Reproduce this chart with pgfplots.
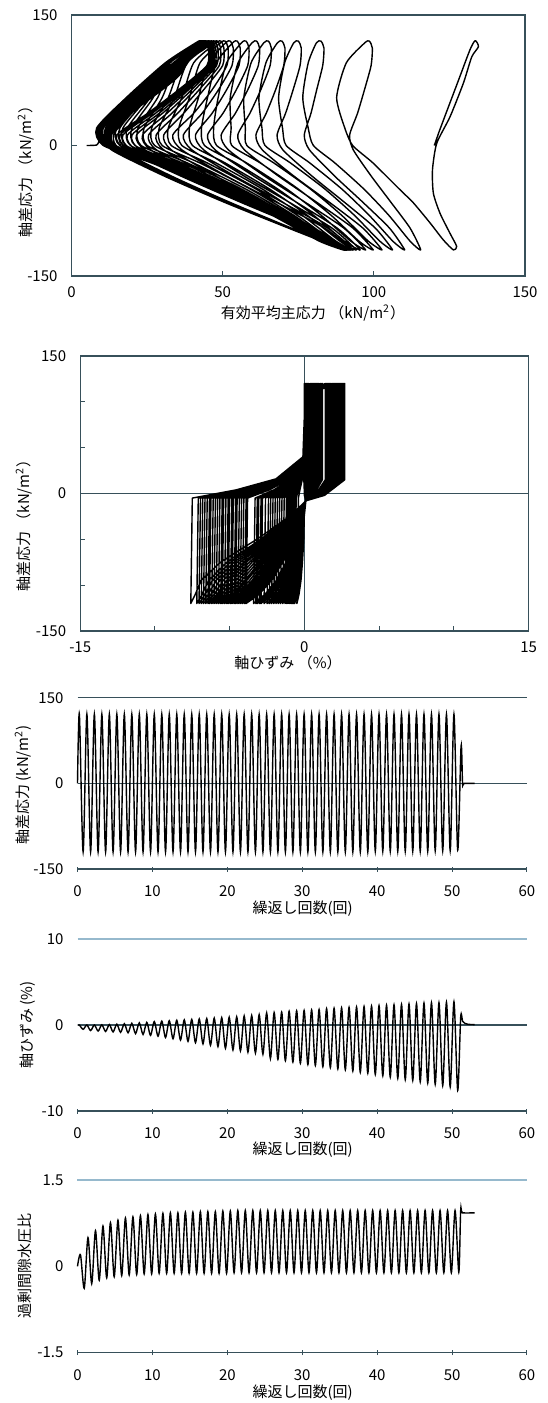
\documentclass[border=0pt]{standalone}
\usepackage{fontspec}
\setmainfont{Noto Sans CJK JP}
\usepackage{pgfplots}
\pgfplotsset{compat=1.18}
\definecolor{frame}{RGB}{55,80,90}
\definecolor{gridlt}{RGB}{150,185,205}
\pgfplotsset{
  panel/.style={
    scale only axis, anchor=south west,
    font=\fontsize{7.5}{9}\selectfont,
    /pgf/number format/assume math mode=true,
    axis line style={frame, line width=0.6pt},
    tick style={frame, line width=0.5pt},
    major tick length=2.5pt,
    tick align=inside,
    xticklabel style={yshift=-2pt},
    yticklabel style={xshift=-3.5pt},
  },
  series panel/.style={
    panel, width=224.75pt, xmin=0, xmax=60, clip=false,
    xtick={0,10,...,60}, xtick pos=left, xtick align=center,
    axis line style={draw=none}, ytick style={draw=none},
    xticklabel style={yshift=-1.5pt},
  },
  loopline/.style={black, line width=0.7pt, line join=round, mark=none},
  waveline/.style={black, line width=0.7pt, smooth, mark=none},
}
\begin{document}
\begin{tikzpicture}
\useasboundingbox (0,0) rectangle (273.5pt,-701.5pt);

% stress path p'-q
\begin{axis}[panel, at={(35.75pt,-138pt)}, width=226.75pt, height=130.5pt,
  xmin=0, xmax=150, ymin=-150, ymax=150,
  xtick={0,50,100,150}, ytick={-150,0,150}, xtick pos=left, ytick pos=left]
\addplot[loopline, smooth, tension=0.4] coordinates {
(120,0) (121.5,15) (123,29) (128,75) (131.8,110) (133.5,120.5) (134.6,113.6) (132.4,102) (129.6,71.5) (125.2,33) (120.8,2.5) (119.4,-28) (119.7,-55) (121.9,-78) (125.2,-101) (127.4,-116) (126.3,-120) (123,-108.6) (118.6,-89) (113.1,-66) (108.7,-51) (99.7,-20)
(93,0) (90.4,20) (87.7,55) (90.9,95) (97,118) (98.5,120) (99.5,112) (99.1,92) (96.9,64) (94.6,37) (92,12) (93.2,-5) (99.1,-35) (105.6,-65) (112,-95) (115.5,-120) (112,-110) (104.9,-80) (96.7,-50) (87.1,-20)
(80,0) (78.3,20) (76.5,55) (78.3,95) (81,118) (82.5,120) (83.5,112) (83.1,92) (81.1,64) (79.2,37) (77,12) (78.7,-5) (87,-35) (96.3,-65) (105.2,-95) (110.2,-120) (106.3,-110) (98.4,-80) (89.4,-50) (78.8,-20)
(71,0) (69.8,20) (68.5,55) (70.5,95) (73.5,118) (75,120) (76,112) (75.6,92) (73.3,64) (70.8,37) (68,12) (69.9,-5) (79.5,-35) (90.2,-65) (100.5,-95) (106.2,-120) (102,-110) (93.5,-80) (83.8,-50) (72.4,-20)
(64,0) (63,20) (62,55) (64.3,95) (68.1,118) (69.6,120) (70.6,112) (70.2,92) (67.5,64) (64.4,37) (61,12) (63.1,-5) (73.5,-35) (85.2,-65) (96.4,-95) (102.7,-120) (98.2,-110) (89.3,-80) (79,-50) (66.9,-20)
(58,0) (57.5,20) (57,55) (59.4,95) (63.6,118) (65.1,120) (66.1,112) (65.7,92) (62.6,64) (59,37) (55,12) (57.2,-5) (68.4,-35) (81,-65) (93.1,-95) (99.8,-120) (95.1,-110) (85.8,-80) (75,-50) (62.4,-20)
(53,0) (52.8,20) (52.5,55) (55.1,95) (59.7,118) (61.2,120) (62.2,112) (61.8,92) (58.3,64) (54.2,37) (49.5,12) (51.9,-5) (63.8,-35) (77.2,-65) (90.1,-95) (97.3,-120) (92.4,-110) (82.5,-80) (71.2,-50) (57.9,-20)
(48,0) (47,20) (48.5,55) (51.3,95) (56.2,118) (57.7,120) (58.7,112) (58.3,92) (54.5,64) (50.1,37) (45,12) (47.5,-5) (60.2,-35) (74.3,-65) (87.9,-95) (95.5,-120) (90.3,-110) (80,-80) (68.2,-50) (54.3,-20)
(44,0) (43,20) (45,55) (47.9,95) (53.3,118) (54.8,120) (55.8,112) (55.4,92) (51.3,64) (46.5,37) (41,12) (43.7,-5) (57,-35) (71.9,-65) (86.2,-95) (94.2,-120) (88.8,-110) (77.9,-80) (65.5,-50) (50.8,-20)
(40,0) (39,20) (42,55) (45.2,95) (51,118) (52.5,120) (53.5,112) (53.1,92) (48.6,64) (43.2,37) (37,12) (39.8,-5) (53.9,-35) (69.6,-65) (84.8,-95) (93.2,-120) (87.5,-110) (76.2,-80) (63.1,-50) (47.8,-20)
(36.5,0) (35.5,20) (39,55) (42.5,95) (49.3,118) (50.8,120) (51.8,112) (51.4,92) (46.5,64) (40.4,37) (33.5,12) (36.5,-5) (51.2,-35) (67.7,-65) (83.7,-95) (92.5,-120) (86.5,-110) (74.6,-80) (61,-50) (44.9,-20)
(33,0) (32,20) (36.5,55) (40.4,95) (47.9,118) (49.4,120) (50.4,112) (50,92) (43.7,64) (37.1,37) (30.5,12) (33,-5) (47.7,-35) (63.7,-65) (80.3,-95) (92,-120) (85.8,-110) (73.4,-80) (59.1,-50) (42.4,-20)
(30,0) (29,20) (34,55) (38.3,95) (46.8,118) (48.3,120) (49.3,112) (48.9,92) (42.2,64) (35.1,37) (28,12) (30.5,-5) (45.8,-35) (62.3,-65) (79.5,-95) (91.6,-120) (85.2,-110) (72.4,-80) (57.6,-50) (40.3,-20)
(27.5,0) (26.5,20) (32,55) (36.6,95) (45.9,118) (47.4,120) (48.4,112) (48,92) (40.8,64) (33.2,37) (25.5,12) (28.1,-5) (43.9,-35) (61,-65) (78.8,-95) (91.3,-120) (84.7,-110) (71.4,-80) (56.2,-50) (38.3,-20)
(25,0) (24,20) (30,55) (35,95) (45.2,118) (46.7,120) (47.7,112) (47.3,92) (39.7,64) (31.6,37) (23.5,12) (26.2,-5) (42.4,-35) (60,-65) (78.3,-95) (91.1,-120) (84.3,-110) (70.7,-80) (55,-50) (36.6,-20)
(23,0) (22,20) (28.5,55) (33.8,95) (44.6,118) (46.1,120) (47.1,112) (46.7,92) (38.7,64) (30.1,37) (21.5,12) (24.3,-5) (40.9,-35) (59,-65) (77.7,-95) (90.9,-120) (83.9,-110) (69.9,-80) (53.9,-50) (35,-20)
(21,0) (20,20) (27,55) (32.6,95) (44.1,118) (45.6,120) (46.6,112) (46.2,92) (37.9,64) (29,37) (20,12) (22.8,-5) (39.8,-35) (58.2,-65) (77.3,-95) (90.8,-120) (83.7,-110) (69.4,-80) (53,-50) (33.8,-20)
(19.5,0) (18.5,20) (26,55) (32.2,95) (43.7,118) (45.2,120) (46.2,112) (45.8,92) (37.2,64) (27.8,37) (18.5,12) (21.4,-5) (38.7,-35) (57.5,-65) (77,-95) (90.7,-120) (83.4,-110) (68.9,-80) (52.2,-50) (32.5,-20)
(18,0) (17,20) (25,55) (32,95) (43.3,118) (44.8,120) (45.8,112) (45.4,92) (36.5,64) (26.7,37) (17,12) (19.9,-5) (37.6,-35) (56.7,-65) (76.6,-95) (90.6,-120) (83.2,-110) (68.5,-80) (51.6,-50) (31.7,-20)
(17,0) (16,20) (24.3,55) (32,95) (43,118) (44.5,120) (45.5,112) (45.1,92) (35.9,64) (26,37) (16,12) (19,-5) (36.9,-35) (56.2,-65) (76.3,-95) (90.5,-120) (83,-110) (68.1,-80) (51,-50) (30.9,-20)
(16,0) (15,20) (23.8,55) (32,95) (42.7,118) (44.2,120) (45.2,112) (44.8,92) (35.4,64) (25.2,37) (15,12) (18,-5) (36.1,-35) (55.8,-65) (76.2,-95) (90.5,-120) (82.9,-110) (67.7,-80) (50.3,-50) (29.8,-20)
(14.6,0) (13,20) (21,55) (32.5,95) (42.4,118) (43.9,120) (44.7,113) (39.5,100) (35.5,80) (30,64) (19.8,37) (13.9,12) (16.2,-5) (33,-35) (52.2,-65) (72.8,-95) (90.4,-120) (82.7,-110) (67.4,-80) (49.7,-50) (29,-20)
(13.7,0) (12,20) (20.4,55) (32.2,95) (42.3,118) (43.8,120) (44.6,113) (39.2,100) (35,80) (29.5,64) (19.5,37) (13.2,12) (15.5,-5) (32.5,-35) (51.8,-65) (72.6,-95) (90.3,-120) (82.6,-110) (67.1,-80) (49.3,-50) (28.5,-20)
(13,0) (11.2,20) (19.9,55) (32,95) (42.1,118) (43.6,120) (44.4,113) (38.9,100) (34.5,80) (29,64) (19.1,37) (12.7,12) (15,-5) (32.1,-35) (51.5,-65) (72.4,-95) (90.2,-120) (82.4,-110) (66.9,-80) (49,-50) (28,-20)
(12.5,0) (10.5,20) (19.5,55) (31.8,95) (42,118) (43.5,120) (44.3,113) (38.6,100) (34,80) (28.5,64) (18.8,37) (12.3,12) (14.6,-5) (31.8,-35) (51.3,-65) (72.3,-95) (90.2,-120) (82.4,-110) (66.8,-80) (48.9,-50) (27.8,-20)
(12.2,0) (10.2,20) (19.2,55) (31.7,95) (41.9,118) (43.4,120) (44.2,113) (38.4,100) (33.5,80) (28,64) (18.4,37) (12,12) (14.3,-5) (31.5,-35) (51.1,-65) (72.1,-95) (90.1,-120) (82.3,-110) (66.6,-80) (48.7,-50) (27.5,-20)
(11.9,0) (9.9,20) (19,55) (31.6,95) (41.8,118) (43.3,120) (44.1,113) (38.1,100) (33,80) (27.5,64) (18.1,37) (11.8,12) (14.1,-5) (31.4,-35) (51,-65) (72.1,-95) (90.1,-120) (82.3,-110) (66.6,-80) (48.5,-50) (27.4,-20)
(11.7,0) (9.7,20) (18.8,55) (31.5,95) (41.7,118) (43.2,120) (44,113) (37.8,100) (32.5,80) (27,64) (17.7,37) (11.6,12) (14,-5) (31.2,-35) (50.9,-65) (72,-95) (90.1,-120) (82.2,-110) (66.5,-80) (48.4,-50) (27.2,-20)
(11.5,0) (9.5,20) (18.7,55) (31.4,95) (41.6,118) (43.1,120) (43.9,113) (37.5,100) (32,80) (26.5,64) (17.4,37) (11.5,12) (13.9,-5) (31.1,-35) (50.8,-65) (71.9,-95) (90,-120) (82.1,-110) (66.4,-80) (48.3,-50) (27.1,-20)
(11.4,0) (9.3,20) (18.6,55) (31.3,95) (41.5,118) (43,120) (43.8,113) (37.3,100) (31.5,80) (26,64) (17,37) (11.4,12) (13.8,-5) (31.1,-35) (50.7,-65) (71.9,-95) (90,-120) (82.1,-110) (66.4,-80) (48.2,-50) (27,-20)
(11.2,0) (9.1,20) (18.5,55) (31.2,95) (41.4,118) (42.9,120) (43.7,113) (37,100) (31,80) (25.5,64) (16.7,37) (11.3,12) (13.7,-5) (31,-35) (50.7,-65) (71.9,-95) (90,-120) (82.1,-110) (66.3,-80) (48.2,-50) (26.9,-20)
(11.1,0) (8.9,20) (18.4,55) (31.1,95) (41.3,118) (42.8,120) (43.6,113) (36.7,100) (30.5,80) (25,64) (16.3,37) (11.2,12) (13.6,-5) (30.9,-35) (50.6,-65) (71.9,-95) (90,-120) (82.1,-110) (66.3,-80) (48.1,-50) (26.8,-20)
(11,0) (8.8,20) (18.3,55) (31,95) (41.3,118) (42.8,120) (43.6,113) (36.4,100) (30,80) (24.5,64) (16,37) (11.1,12) (13.5,-5) (30.8,-35) (50.6,-65) (71.9,-95) (90,-120) (82.1,-110) (66.2,-80) (48,-50) (26.6,-20)
(10.8,0) (8.6,20) (18.2,55) (31,95) (41.2,118) (42.7,120) (43.5,113) (36.2,100) (29.5,80) (24,64) (15.6,37) (11,12) (13.4,-5) (30.8,-35) (50.5,-65) (71.8,-95) (90,-120) (82.1,-110) (66.2,-80) (47.9,-50) (26.6,-20)
(10.7,0) (8.4,20) (18.2,55) (31,95) (41.2,118) (42.7,120) (43.5,113) (35.9,100) (29,80) (23.5,64) (15.3,37) (10.9,12) (13.3,-5) (30.7,-35) (50.5,-65) (71.8,-95) (90,-120) (82.1,-110) (66.2,-80) (47.9,-50) (26.5,-20)
(10.6,0) (8.3,20) (18.1,55) (31,95) (41.1,118) (42.6,120) (43.4,113) (35.6,100) (28.5,80) (23,64) (14.9,37) (10.8,12) (13.2,-5) (30.6,-35) (50.4,-65) (71.8,-95) (90,-120) (82,-110) (66.2,-80) (47.9,-50) (26.4,-20)
(10.5,0) (8.5,20) (18.2,55) (21.5,65) (17,40) (11,12) (9,4) (8.3,0.5) (5,0)
};
\end{axis}

% axial strain - deviator stress
\begin{axis}[panel, at={(40.1pt,-315.5pt)}, width=224.2pt, height=137.5pt,
  xmin=-15, xmax=15, ymin=-150, ymax=150,
  xtick={-15,-10,...,15}, xticklabels={-15,,,0,,,15},
  ytick={-150,-100,...,150}, yticklabels={-150,,,0,,,150},
  xtick pos=left, ytick pos=left,
  extra x ticks={0}, extra x tick labels={}, extra x tick style={grid=major, major tick length=0pt},
  extra y ticks={0}, extra y tick labels={}, extra y tick style={grid=major, major tick length=0pt},
  major grid style={frame, line width=0.6pt}]
\addplot[loopline, line width=0.7pt] coordinates {
(0,0) (-0.05,20) (-0.1,40)
(0.05,110) (0,120) (0,15) (0,-2) (0.1,-8) (-0.01,-25) (-0.04,-50) (-0.13,-75) (-0.23,-95) (-0.36,-110) (-0.5,-120) (-0.4,-5) (-0.3,4) (-0.13,16) (-0.1,40)
(0.05,110) (0,120) (0,15) (0,-2) (0.1,-8) (-0.01,-25) (-0.05,-50) (-0.16,-75) (-0.29,-95) (-0.47,-110) (-0.65,-120) (-0.55,-5) (-0.39,4) (-0.16,16) (-0.1,40)
(0.05,110) (0,120) (0,15) (0,-2) (0.1,-8) (-0.01,-25) (-0.06,-50) (-0.18,-75) (-0.32,-95) (-0.5,-110) (-0.7,-120) (-0.6,-5) (-0.42,4) (-0.18,16) (-0.1,40)
(0.05,110) (0.02,120) (0.02,15) (0.01,-2) (0.1,-8) (-0.02,-25) (-0.06,-50) (-0.19,-75) (-0.34,-95) (-0.54,-110) (-0.75,-120) (-0.65,-5) (-0.45,4) (-0.19,16) (-0.1,40)
(0.05,110) (0.05,120) (0.05,15) (0.03,-2) (0.1,-8) (-0.02,-25) (-0.07,-50) (-0.2,-75) (-0.36,-95) (-0.58,-110) (-0.8,-120) (-0.7,-5) (-0.48,4) (-0.2,16) (-0.1,40)
(0.05,110) (0.1,120) (0.1,15) (0.05,-2) (0.1,-8) (-0.02,-25) (-0.07,-50) (-0.22,-75) (-0.39,-95) (-0.61,-110) (-0.85,-120) (-0.75,-5) (-0.51,4) (-0.21,16) (-0.1,40)
(0.05,110) (0.15,120) (0.15,15) (0.08,-2) (0.1,-8) (-0.02,-25) (-0.08,-50) (-0.23,-75) (-0.41,-95) (-0.65,-110) (-0.9,-120) (-0.8,-5) (-0.54,4) (-0.23,16) (-0.1,40)
(0.05,110) (0.2,120) (0.2,15) (0.1,-2) (0.1,-8) (-0.02,-25) (-0.09,-50) (-0.26,-75) (-0.46,-95) (-0.72,-110) (-1,-120) (-0.9,-5) (-0.6,4) (-0.25,16) (-0.1,40)
(0.05,110) (0.25,120) (0.25,15) (0.13,-2) (0.1,-8) (-0.03,-25) (-0.1,-50) (-0.29,-75) (-0.51,-95) (-0.8,-110) (-1.1,-120) (-1,-5) (-0.66,4) (-0.28,16) (-0.1,40)
(0.05,110) (0.3,120) (0.3,15) (0.15,-2) (0.1,-8) (-0.03,-25) (-0.11,-50) (-0.32,-75) (-0.56,-95) (-0.87,-110) (-1.2,-120) (-1.1,-5) (-0.72,4) (-0.3,16) (-0.1,40)
(0.05,110) (0.4,120) (0.4,15) (0.2,-2) (0.1,-8) (-0.03,-25) (-0.12,-50) (-0.35,-75) (-0.61,-95) (-0.95,-110) (-1.3,-120) (-1.2,-5) (-0.78,4) (-0.33,16) (-0.1,40)
(0.05,110) (0.45,120) (0.45,15) (0.23,-2) (0.1,-8) (-0.04,-25) (-0.14,-50) (-0.4,-75) (-0.68,-95) (-1.06,-110) (-1.45,-120) (-1.35,-5) (-0.87,4) (-0.36,16) (-0.1,40)
(0.05,110) (0.5,120) (0.5,15) (0.25,-2) (0.1,-8) (-0.04,-25) (-0.16,-50) (-0.45,-75) (-0.76,-95) (-1.17,-110) (-1.6,-120) (-1.5,-5) (-0.96,4) (-0.4,16) (-0.1,40)
(0.05,110) (0.55,120) (0.55,15) (0.28,-2) (0.1,-8) (-0.05,-25) (-0.18,-50) (-0.5,-75) (-0.84,-95) (-1.29,-110) (-1.75,-120) (-1.65,-5) (-1.05,4) (-0.44,16) (-0.1,40)
(0.05,110) (0.6,120) (0.6,15) (0.3,-2) (0.1,-8) (-0.05,-25) (-0.2,-50) (-0.55,-75) (-0.92,-95) (-1.4,-110) (-1.9,-120) (-1.8,-5) (-1.14,4) (-0.48,16) (-0.1,40)
(0.05,110) (0.65,120) (0.65,15) (0.33,-2) (0.1,-8) (-0.06,-25) (-0.23,-50) (-0.6,-75) (-1.01,-95) (-1.52,-110) (-2.05,-120) (-1.95,-5) (-1.23,4) (-0.51,16) (-0.1,40)
(0.05,110) (0.7,120) (0.7,15) (0.35,-2) (0.1,-8) (-0.07,-25) (-0.25,-50) (-0.66,-75) (-1.09,-95) (-1.64,-110) (-2.2,-120) (-2.1,-5) (-1.32,4) (-0.55,16) (-0.1,40)
(0.05,110) (0.75,120) (0.75,15) (0.38,-2) (0.1,-8) (-0.08,-25) (-0.28,-50) (-0.72,-75) (-1.18,-95) (-1.76,-110) (-2.35,-120) (-2.25,-5) (-1.41,4) (-0.59,16) (-0.1,40)
(0.05,110) (0.8,120) (0.8,15) (0.4,-2) (0.1,-8) (-0.09,-25) (-0.31,-50) (-0.78,-75) (-1.27,-95) (-1.88,-110) (-2.5,-120) (-2.4,-5) (-1.5,4) (-0.63,16) (-0.1,40)
(0.05,110) (0.85,120) (0.85,15) (0.43,-2) (0.1,-8) (-0.1,-25) (-0.35,-50) (-0.87,-75) (-1.39,-95) (-2.04,-110) (-2.7,-120) (-2.6,-5) (-1.62,4) (-0.68,16) (-0.1,40)
(0.05,110) (0.9,120) (0.9,15) (0.45,-2) (0.1,-8) (-0.11,-25) (-0.39,-50) (-0.95,-75) (-1.52,-95) (-2.2,-110) (-2.9,-120) (-2.8,-5) (-1.74,4) (-0.73,16) (-0.1,40)
(0.05,110) (0.95,120) (0.95,15) (0.48,-2) (0.1,-8) (-0.12,-25) (-0.42,-50) (-1.01,-75) (-1.59,-95) (-2.29,-110) (-3,-120) (-2.9,-5) (-1.8,4) (-0.75,16) (-0.1,40)
(0.05,110) (1.05,120) (1.05,15) (0.53,-2) (0.1,-8) (-0.13,-25) (-0.46,-50) (-1.09,-75) (-1.7,-95) (-2.41,-110) (-3.15,-120) (-3.05,-5) (-1.89,4) (-0.79,16) (-0.1,40)
(0.05,110) (1.1,120) (1.1,15) (0.55,-2) (0.1,-8) (-0.14,-25) (-0.49,-50) (-1.15,-75) (-1.78,-95) (-2.51,-110) (-3.25,-120) (-3.15,-5) (-1.95,4) (-0.81,16) (-0.1,40)
(0.05,110) (1.2,120) (1.2,15) (0.6,-2) (0.1,-8) (-0.15,-25) (-0.54,-50) (-1.23,-75) (-1.89,-95) (-2.64,-110) (-3.4,-120) (-3.3,-5) (-2.04,4) (-0.85,16) (-0.1,40)
(0.05,110) (1.4,120) (1.4,15) (0.7,-2) (0.1,-8) (-0.19,-25) (-0.64,-50) (-1.45,-75) (-2.2,-95) (-3.04,-110) (-3.9,-120) (-3.8,-5) (-2.34,4) (-0.98,16) (-0.1,40)
(0.05,110) (1.45,120) (1.45,15) (0.73,-2) (0.1,-8) (-0.2,-25) (-0.69,-50) (-1.53,-75) (-2.3,-95) (-3.14,-110) (-4,-120) (-3.9,-5) (-2.4,4) (-1,16) (-0.1,40)
(0.05,110) (1.5,120) (1.5,15) (0.75,-2) (0.1,-8) (-0.22,-25) (-0.74,-50) (-1.63,-75) (-2.42,-95) (-3.28,-110) (-4.15,-120) (-4.05,-5) (-2.49,4) (-1.04,16) (-0.1,40)
(0.05,110) (1.6,120) (1.6,15) (0.8,-2) (0.1,-8) (-0.23,-25) (-0.8,-50) (-1.74,-75) (-2.56,-95) (-3.42,-110) (-4.3,-120) (-4.2,-5) (-2.58,4) (-1.08,16) (-0.1,40)
(0.05,110) (1.65,120) (1.65,15) (0.83,-2) (0.1,-8) (-0.25,-25) (-0.87,-50) (-1.85,-75) (-2.69,-95) (-3.56,-110) (-4.45,-120) (-4.35,-5) (-2.67,4) (-1.11,16) (-0.1,40)
(0.05,110) (1.7,120) (1.7,15) (0.85,-2) (0.1,-8) (-0.27,-25) (-0.93,-50) (-1.96,-75) (-2.83,-95) (-3.71,-110) (-4.6,-120) (-4.5,-5) (-2.76,4) (-1.15,16) (-0.1,40)
(0.05,110) (1.75,120) (1.75,15) (0.88,-2) (0.1,-8) (-0.29,-25) (-0.99,-50) (-2.06,-75) (-2.95,-95) (-3.82,-110) (-4.7,-120) (-4.6,-5) (-2.82,4) (-1.18,16) (-0.1,40)
(0.05,110) (1.8,120) (1.8,15) (0.9,-2) (0.1,-8) (-0.32,-25) (-1.06,-50) (-2.19,-75) (-3.1,-95) (-3.97,-110) (-4.85,-120) (-4.75,-5) (-2.91,4) (-1.21,16) (-0.1,40)
(0.05,110) (1.9,120) (1.9,15) (0.95,-2) (0.1,-8) (-0.34,-25) (-1.13,-50) (-2.29,-75) (-3.22,-95) (-4.08,-110) (-4.95,-120) (-4.85,-5) (-2.97,4) (-1.24,16) (-0.1,40)
(0.05,110) (1.95,120) (1.95,15) (0.98,-2) (0.1,-8) (-0.36,-25) (-1.21,-50) (-2.43,-75) (-3.38,-95) (-4.24,-110) (-5.1,-120) (-5,-5) (-3.06,4) (-1.28,16) (-0.1,40)
(0.05,110) (2,120) (2,15) (1,-2) (0.1,-8) (-0.38,-25) (-1.28,-50) (-2.55,-75) (-3.51,-95) (-4.36,-110) (-5.2,-120) (-5.1,-5) (-3.12,4) (-1.3,16) (-0.1,40)
(0.05,110) (2.05,120) (2.05,15) (1.03,-2) (0.1,-8) (-0.41,-25) (-1.37,-50) (-2.7,-75) (-3.68,-95) (-4.52,-110) (-5.35,-120) (-5.25,-5) (-3.21,4) (-1.34,16) (-0.1,40)
(0.05,110) (2.1,120) (2.1,15) (1.05,-2) (0.1,-8) (-0.44,-25) (-1.46,-50) (-2.85,-75) (-3.86,-95) (-4.68,-110) (-5.5,-120) (-5.4,-5) (-3.3,4) (-1.38,16) (-0.1,40)
(0.05,110) (2.15,120) (2.15,15) (1.08,-2) (0.1,-8) (-0.47,-25) (-1.55,-50) (-2.98,-75) (-4.01,-95) (-4.81,-110) (-5.6,-120) (-5.5,-5) (-3.36,4) (-1.4,16) (-0.1,40)
(0.05,110) (2.2,120) (2.2,15) (1.1,-2) (0.1,-8) (-0.5,-25) (-1.65,-50) (-3.15,-75) (-4.2,-95) (-4.98,-110) (-5.75,-120) (-5.65,-5) (-3.45,4) (-1.44,16) (-0.1,40)
(0.05,110) (2.25,120) (2.25,15) (1.13,-2) (0.1,-8) (-0.53,-25) (-1.76,-50) (-3.33,-75) (-4.39,-95) (-5.15,-110) (-5.9,-120) (-5.8,-5) (-3.54,4) (-1.48,16) (-0.1,40)
(0.05,110) (2.3,120) (2.3,15) (1.15,-2) (0.1,-8) (-0.57,-25) (-1.87,-50) (-3.51,-75) (-4.59,-95) (-5.33,-110) (-6.05,-120) (-5.95,-5) (-3.63,4) (-1.51,16) (-0.1,40)
(0.05,110) (2.35,120) (2.35,15) (1.18,-2) (0.1,-8) (-0.61,-25) (-1.98,-50) (-3.69,-75) (-4.8,-95) (-5.51,-110) (-6.2,-120) (-6.1,-5) (-3.72,4) (-1.55,16) (-0.1,40)
(0.05,110) (2.4,120) (2.4,15) (1.2,-2) (0.1,-8) (-0.64,-25) (-2.11,-50) (-3.89,-75) (-5.02,-95) (-5.7,-110) (-6.35,-120) (-6.25,-5) (-3.81,4) (-1.59,16) (-0.1,40)
(0.05,110) (2.45,120) (2.45,15) (1.23,-2) (0.1,-8) (-0.68,-25) (-2.21,-50) (-4.06,-75) (-5.2,-95) (-5.84,-110) (-6.45,-120) (-6.35,-5) (-3.87,4) (-1.61,16) (-0.1,40)
(0.05,110) (2.5,120) (2.5,15) (1.25,-2) (0.1,-8) (-0.72,-25) (-2.35,-50) (-4.27,-75) (-5.43,-95) (-6.04,-110) (-6.6,-120) (-6.5,-5) (-3.96,4) (-1.65,16) (-0.1,40)
(0.05,110) (2.55,120) (2.55,15) (1.28,-2) (0.1,-8) (-0.76,-25) (-2.48,-50) (-4.49,-75) (-5.67,-95) (-6.23,-110) (-6.75,-120) (-6.65,-5) (-4.05,4) (-1.69,16) (-0.1,40)
(0.05,110) (2.6,120) (2.6,15) (1.3,-2) (0.1,-8) (-0.81,-25) (-2.62,-50) (-4.71,-75) (-5.91,-95) (-6.43,-110) (-6.9,-120) (-6.8,-5) (-4.14,4) (-1.73,16) (-0.1,40)
(0.05,110) (2.6,120) (2.6,15) (1.3,-2) (0.1,-8) (-0.86,-25) (-2.77,-50) (-4.95,-75) (-6.16,-95) (-6.64,-110) (-7.05,-120) (-6.95,-5) (-4.23,4) (-1.76,16) (-0.1,40)
(0.05,110) (2.65,120) (2.65,15) (1.33,-2) (0.1,-8) (-0.9,-25) (-2.93,-50) (-5.19,-75) (-6.42,-95) (-6.84,-110) (-7.2,-120) (-7.1,-5) (-4.32,4) (-1.8,16) (-0.1,40)
(0.05,110) (2.7,120) (2.7,15) (1.35,-2) (0.1,-8) (-0.99,-25) (-3.19,-50) (-5.62,-75) (-6.92,-95) (-7.3,-110) (-7.6,-120) (-7.5,-5) (-4.56,4) (-1.9,16) (-0.1,40)
(0.9,65) (0.5,30) (0.05,0)
};
\end{axis}

% deviator stress - cycles
\begin{axis}[series panel, at={(38.75pt,-434.5pt)}, height=85.65pt,
  ymin=-150, ymax=150, ytick={-150,0,150}]
\draw[frame, line width=0.6pt] (axis cs:0,150) -- (axis cs:60,150);
\draw[frame, line width=0.6pt] (axis cs:0,0) -- (axis cs:60,0);
\draw[frame, line width=0.6pt] (axis cs:0,-150) -- (axis cs:60,-150);
\addplot[waveline] coordinates {
(0,0) (0.25,121) (0.75,-120) (1.25,121) (1.75,-120) (2.25,121) (2.75,-120) (3.25,121) (3.75,-120) (4.25,121) (4.75,-120)
(5.25,121) (5.75,-120) (6.25,121) (6.75,-120) (7.25,121) (7.75,-120) (8.25,121) (8.75,-120) (9.25,121) (9.75,-120)
(10.25,121) (10.75,-120) (11.25,121) (11.75,-120) (12.25,121) (12.75,-120) (13.25,121) (13.75,-120) (14.25,121) (14.75,-120)
(15.25,121) (15.75,-120) (16.25,121) (16.75,-120) (17.25,121) (17.75,-120) (18.25,121) (18.75,-120) (19.25,121) (19.75,-120)
(20.25,121) (20.75,-120) (21.25,121) (21.75,-120) (22.25,121) (22.75,-120) (23.25,121) (23.75,-120) (24.25,121) (24.75,-120)
(25.25,121) (25.75,-120) (26.25,121) (26.75,-120) (27.25,121) (27.75,-120) (28.25,121) (28.75,-120) (29.25,121) (29.75,-120)
(30.25,121) (30.75,-120) (31.25,121) (31.75,-120) (32.25,121) (32.75,-120) (33.25,121) (33.75,-120) (34.25,121) (34.75,-120)
(35.25,121) (35.75,-120) (36.25,121) (36.75,-120) (37.25,121) (37.75,-120) (38.25,121) (38.75,-120) (39.25,121) (39.75,-119)
(40.25,121) (40.75,-119) (41.25,121) (41.75,-119) (42.25,121) (42.75,-119) (43.25,121) (43.75,-119) (44.25,121) (44.75,-119)
(45.25,121) (45.75,-119) (46.25,121) (46.75,-119) (47.25,121) (47.75,-118) (48.25,121) (48.75,-118) (49.25,121) (49.75,-118)
(50.25,121) (50.75,-117) (51.2,65) (51.4,0) (51.6,0) (53,0)
};
\end{axis}

% axial strain - cycles
\begin{axis}[series panel, at={(38.75pt,-555.5pt)}, height=86pt,
  ymin=-10, ymax=10, ytick={-10,0,10}]
\draw[gridlt, line width=0.6pt] (axis cs:0,10) -- (axis cs:60,10);
\draw[frame, line width=0.6pt] (axis cs:0,0) -- (axis cs:60,0);
\draw[frame, line width=0.6pt] (axis cs:0,-10) -- (axis cs:60,-10);
\addplot[waveline] coordinates {
(0,0) (0.25,0) (0.75,-0.5) (1.25,0) (1.75,-0.65) (2.25,0) (2.75,-0.7) (3.25,0.02) (3.75,-0.75) (4.25,0.05) (4.75,-0.8)
(5.25,0.1) (5.75,-0.85) (6.25,0.15) (6.75,-0.9) (7.25,0.2) (7.75,-1) (8.25,0.25) (8.75,-1.1) (9.25,0.3) (9.75,-1.2)
(10.25,0.4) (10.75,-1.3) (11.25,0.45) (11.75,-1.45) (12.25,0.5) (12.75,-1.6) (13.25,0.55) (13.75,-1.75) (14.25,0.6) (14.75,-1.9)
(15.25,0.65) (15.75,-2.05) (16.25,0.7) (16.75,-2.2) (17.25,0.75) (17.75,-2.35) (18.25,0.8) (18.75,-2.5) (19.25,0.85) (19.75,-2.7)
(20.25,0.9) (20.75,-2.9) (21.25,0.95) (21.75,-3) (22.25,1.05) (22.75,-3.15) (23.25,1.1) (23.75,-3.25) (24.25,1.2) (24.75,-3.4)
(25.25,1.4) (25.75,-3.9) (26.25,1.45) (26.75,-4) (27.25,1.5) (27.75,-4.15) (28.25,1.6) (28.75,-4.3) (29.25,1.65) (29.75,-4.45)
(30.25,1.7) (30.75,-4.6) (31.25,1.75) (31.75,-4.7) (32.25,1.8) (32.75,-4.85) (33.25,1.9) (33.75,-4.95) (34.25,1.95) (34.75,-5.1)
(35.25,2) (35.75,-5.2) (36.25,2.05) (36.75,-5.35) (37.25,2.1) (37.75,-5.5) (38.25,2.15) (38.75,-5.6) (39.25,2.2) (39.75,-5.75)
(40.25,2.25) (40.75,-5.9) (41.25,2.3) (41.75,-6.05) (42.25,2.35) (42.75,-6.2) (43.25,2.4) (43.75,-6.35) (44.25,2.45) (44.75,-6.45)
(45.25,2.5) (45.75,-6.6) (46.25,2.55) (46.75,-6.75) (47.25,2.6) (47.75,-6.9) (48.25,2.6) (48.75,-7.05) (49.25,2.65) (49.75,-7.2)
(50.25,2.7) (50.75,-7.6) (51.15,0.9) (51.4,0.45) (51.7,0.2) (52.2,0.08) (53,0.05)
};
\end{axis}

% excess pore water pressure ratio - cycles
\begin{axis}[series panel, at={(38.75pt,-676.35pt)}, height=86.35pt,
  ymin=-1.5, ymax=1.5, ytick={-1.5,0,1.5}]
\draw[gridlt, line width=0.6pt] (axis cs:0,1.5) -- (axis cs:60,1.5);
\draw[frame, line width=0.6pt] (axis cs:0,-1.5) -- (axis cs:60,-1.5);
\addplot[waveline] coordinates {
(0,0) (0.4,0.2) (0.9,-0.38) (1.4,0.5) (1.9,-0.3) (2.4,0.62) (2.9,-0.24) (3.4,0.7) (3.9,-0.2) (4.4,0.76) (4.9,-0.18)
(5.4,0.8) (5.9,-0.16) (6.4,0.84) (6.9,-0.15) (7.4,0.86) (7.9,-0.14) (8.4,0.88) (8.9,-0.13) (9.4,0.9) (9.9,-0.13)
(10.4,0.91) (10.9,-0.12) (11.4,0.92) (11.9,-0.12) (12.4,0.93) (12.9,-0.12) (13.4,0.93) (13.9,-0.12) (14.4,0.94) (14.9,-0.12)
(15.4,0.94) (15.9,-0.12) (16.4,0.95) (16.9,-0.12) (17.4,0.95) (17.9,-0.12) (18.4,0.95) (18.9,-0.12) (19.4,0.96) (19.9,-0.12)
(20.4,0.96) (20.9,-0.11) (21.4,0.97) (21.9,-0.11) (22.4,0.97) (22.9,-0.11) (23.4,0.97) (23.9,-0.11) (24.4,0.97) (24.9,-0.11)
(25.4,0.97) (25.9,-0.11) (26.4,0.97) (26.9,-0.11) (27.4,0.97) (27.9,-0.11) (28.4,0.97) (28.9,-0.11) (29.4,0.97) (29.9,-0.11)
(30.4,0.97) (30.9,-0.11) (31.4,0.97) (31.9,-0.11) (32.4,0.97) (32.9,-0.11) (33.4,0.97) (33.9,-0.11) (34.4,0.97) (34.9,-0.11)
(35.4,0.97) (35.9,-0.11) (36.4,0.97) (36.9,-0.11) (37.4,0.97) (37.9,-0.11) (38.4,0.97) (38.9,-0.11) (39.4,0.97) (39.9,-0.11)
(40.4,0.97) (40.9,-0.11) (41.4,0.97) (41.9,-0.11) (42.4,0.97) (42.9,-0.11) (43.4,0.97) (43.9,-0.11) (44.4,0.97) (44.9,-0.11)
(45.4,0.97) (45.9,-0.11) (46.4,0.97) (46.9,-0.11) (47.4,0.97) (47.9,-0.11) (48.4,0.97) (48.9,-0.11) (49.4,0.97) (49.9,-0.11)
(50.4,0.97) (50.9,-0.1) (51.15,0.97) (51.4,0.93) (53,0.93)
};
\end{axis}

% axis titles
\begin{scope}[every node/.style={font=\fontsize{7.5}{9}\selectfont, inner sep=0pt}]
\node[rotate=90] at (13pt,-84pt) {軸差応力 （kN/m\textsuperscript{2}）};
\node at (156.5pt,-156.5pt) {有効平均主応力 （kN/m\textsuperscript{2}）};
\node[rotate=90] at (12pt,-261pt) {軸差応力 （kN/m\textsuperscript{2}）};
\node at (144pt,-331.5pt) {軸ひずみ （\%）};
\node[rotate=90] at (11.5pt,-392.5pt) {軸差応力 (kN/m\textsuperscript{2})};
\node at (151.35pt,-454.5pt) {繰返し回数(回)};
\node[rotate=90] at (14pt,-512.5pt) {軸ひずみ (\%)};
\node at (151.35pt,-575pt) {繰返し回数(回)};
\node[rotate=90] at (12.2pt,-633pt) {過剰間隙水圧比};
\node at (151.35pt,-696.5pt) {繰返し回数(回)};
\end{scope}
\end{tikzpicture}
\end{document}
